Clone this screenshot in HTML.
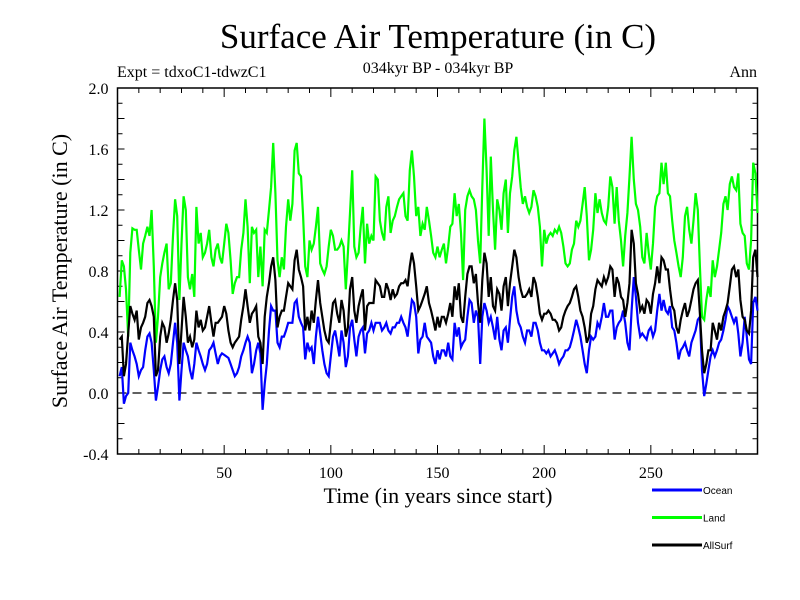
<!DOCTYPE html>
<html><head><meta charset="utf-8"><style>
html,body{margin:0;padding:0;background:#fff;width:800px;height:600px;overflow:hidden}
svg{display:block}
</style></head><body>
<svg id="chart" width="800" height="600" xmlns="http://www.w3.org/2000/svg">
<text x="438" y="48" text-anchor="middle" font-family="Liberation Serif, serif" font-size="35">Surface Air Temperature (in C)</text>
<text x="117" y="77" font-family="Liberation Serif, serif" font-size="16">Expt = tdxoC1-tdwzC1</text>
<text x="438" y="73" text-anchor="middle" font-family="Liberation Serif, serif" font-size="16">034kyr BP - 034kyr BP</text>
<text x="757" y="77" text-anchor="end" font-family="Liberation Serif, serif" font-size="16">Ann</text>
<text x="438" y="503" text-anchor="middle" font-family="Liberation Serif, serif" font-size="22">Time (in years since start)</text>
<text transform="translate(67,271) rotate(-90)" text-anchor="middle" font-family="Liberation Serif, serif" font-size="22">Surface Air Temperature (in C)</text>
<g id="axes"></g>
<g id="series"></g>
<g id="legend"></g>
</svg>
<script>
const years = Array.from({length:300},(_, i)=>i+1);
const ocean = [0.11,0.17,-0.07,-0.02,0.00,0.33,0.28,0.24,0.19,0.11,0.15,0.17,0.28,0.37,0.39,0.33,0.15,-0.05,0.04,0.15,0.22,0.24,0.17,0.13,0.19,0.33,0.46,0.33,-0.05,0.15,0.33,0.28,0.24,0.15,0.09,0.19,0.33,0.28,0.24,0.19,0.15,0.19,0.28,0.30,0.33,0.26,0.19,0.24,0.26,0.25,0.24,0.23,0.19,0.15,0.11,0.13,0.17,0.24,0.28,0.33,0.37,0.33,0.13,0.19,0.28,0.33,0.26,-0.11,0.06,0.19,0.41,0.57,0.54,0.54,0.33,
0.30,0.37,0.37,0.41,0.46,0.46,0.46,0.59,0.61,0.50,0.46,0.43,0.22,0.33,0.28,0.30,0.19,0.37,0.50,0.39,0.28,0.19,0.13,0.11,0.24,0.37,0.41,0.33,0.24,0.41,0.33,0.17,0.24,0.43,0.48,0.35,0.24,0.37,0.41,0.43,0.26,0.39,0.41,0.46,0.41,0.46,0.46,0.46,0.41,0.43,0.46,0.41,0.39,0.43,0.43,0.46,0.46,0.50,0.46,0.43,0.37,0.50,0.61,0.59,0.50,0.26,0.35,0.37,0.46,0.37,0.35,0.33,0.24,0.19,0.28,
0.22,0.28,0.28,0.24,0.33,0.24,0.22,0.46,0.37,0.43,0.30,0.33,0.35,0.50,0.61,0.59,0.46,0.54,0.50,0.19,0.50,0.59,0.54,0.46,0.50,0.43,0.35,0.50,0.35,0.28,0.41,0.43,0.33,0.48,0.63,0.70,0.54,0.46,0.43,0.37,0.33,0.41,0.41,0.37,0.46,0.46,0.41,0.33,0.28,0.28,0.26,0.28,0.24,0.26,0.28,0.24,0.19,0.22,0.24,0.28,0.28,0.30,0.35,0.41,0.48,0.43,0.37,0.28,0.19,0.13,0.28,0.37,0.35,0.37,0.46,
0.43,0.50,0.59,0.50,0.50,0.54,0.54,0.35,0.43,0.46,0.48,0.54,0.46,0.33,0.28,0.54,0.76,0.63,0.46,0.37,0.39,0.37,0.35,0.41,0.43,0.37,0.41,0.54,0.65,0.54,0.61,0.54,0.52,0.57,0.43,0.41,0.33,0.22,0.28,0.30,0.33,0.28,0.24,0.33,0.37,0.41,0.48,0.50,0.15,-0.02,0.06,0.15,0.24,0.28,0.24,0.28,0.33,0.35,0.41,0.48,0.57,0.54,0.50,0.46,0.50,0.39,0.24,0.33,0.50,0.37,0.22,0.19,0.59,0.63,0.54];
const land = [0.63,0.87,0.83,0.68,0.37,0.92,1.08,1.07,1.07,0.94,0.81,0.98,1.03,1.09,1.03,1.20,0.83,0.33,0.50,0.76,0.85,0.92,0.98,0.68,0.72,1.03,1.27,1.16,0.61,0.98,1.29,1.20,0.76,0.68,0.78,0.63,1.22,0.98,1.05,0.89,0.92,0.98,1.07,0.89,0.83,0.94,0.98,0.89,0.85,0.98,1.11,1.05,0.87,0.65,0.72,0.76,0.76,0.94,1.05,1.27,1.09,0.72,1.09,1.05,1.07,0.76,0.96,0.70,1.07,1.05,1.20,1.35,1.64,1.31,0.87,
0.76,0.89,0.81,1.09,1.27,1.13,1.24,1.59,1.64,1.44,1.42,1.16,0.83,0.76,1.00,0.94,0.98,1.09,1.22,0.85,0.81,0.78,0.83,0.96,1.07,1.03,0.94,0.94,0.96,1.00,0.96,0.68,0.92,1.18,1.46,0.96,0.89,0.92,1.09,1.22,0.85,1.11,0.98,1.03,1.00,1.42,1.40,1.13,1.05,1.00,1.22,1.29,1.05,1.13,1.16,1.22,1.27,1.29,1.31,1.16,1.13,1.46,1.59,1.42,1.16,1.22,1.03,1.11,1.07,1.22,1.13,1.03,0.92,0.89,0.96,
0.89,0.94,0.98,0.85,0.96,1.09,1.11,1.31,1.16,1.24,1.05,0.74,1.20,1.29,1.33,1.29,1.27,1.20,1.00,0.85,1.35,1.80,1.46,1.03,1.55,1.20,0.94,1.27,1.20,1.07,1.31,1.40,1.05,1.31,1.42,1.59,1.68,1.51,1.35,1.24,1.29,1.22,1.18,1.22,1.33,1.29,1.22,1.09,0.83,1.07,0.98,1.03,1.05,1.03,1.07,1.05,1.09,1.05,0.96,0.85,0.83,0.85,0.94,0.98,1.13,1.09,1.13,1.24,1.35,1.16,0.87,0.94,1.07,1.31,1.18,
1.27,1.18,1.13,1.11,1.22,1.42,1.35,1.11,1.35,1.13,1.00,0.83,1.03,1.18,1.42,1.68,1.40,1.24,1.20,1.09,0.89,0.85,1.05,0.92,0.81,0.98,1.22,1.29,1.31,1.51,1.37,1.51,1.31,1.29,1.13,1.00,0.92,0.83,0.76,0.89,1.16,1.22,1.07,0.98,1.13,1.31,1.20,0.83,0.50,0.48,0.61,0.70,0.63,0.87,0.76,0.83,0.94,1.05,1.24,1.29,1.20,1.37,1.42,1.35,1.33,1.44,1.11,1.05,1.03,0.85,0.81,1.00,1.51,1.44,1.18];
const allsurf = [0.35,0.37,0.11,0.19,0.39,0.57,0.52,0.48,0.54,0.35,0.43,0.46,0.50,0.59,0.61,0.57,0.50,0.11,0.15,0.37,0.46,0.43,0.33,0.39,0.48,0.61,0.72,0.61,0.19,0.41,0.63,0.50,0.33,0.37,0.30,0.35,0.54,0.43,0.48,0.41,0.43,0.50,0.57,0.46,0.37,0.46,0.46,0.48,0.50,0.57,0.52,0.41,0.33,0.30,0.33,0.35,0.37,0.48,0.57,0.68,0.57,0.46,0.52,0.54,0.57,0.37,0.33,0.19,0.50,0.63,0.72,0.83,0.89,0.74,0.43,
0.50,0.54,0.54,0.63,0.72,0.70,0.68,0.87,0.94,0.81,0.76,0.70,0.41,0.50,0.41,0.54,0.46,0.61,0.74,0.59,0.50,0.41,0.35,0.33,0.46,0.59,0.61,0.52,0.46,0.61,0.54,0.37,0.43,0.68,0.76,0.54,0.46,0.57,0.63,0.68,0.41,0.57,0.59,0.59,0.59,0.74,0.72,0.70,0.63,0.63,0.72,0.68,0.61,0.68,0.63,0.65,0.70,0.72,0.72,0.74,0.70,0.83,0.92,0.85,0.70,0.54,0.57,0.61,0.65,0.70,0.59,0.54,0.48,0.41,0.50,
0.43,0.50,0.50,0.46,0.52,0.59,0.50,0.70,0.61,0.72,0.50,0.46,0.63,0.78,0.83,0.83,0.72,0.78,0.59,0.46,0.74,0.92,0.85,0.63,0.76,0.57,0.54,0.68,0.65,0.54,0.70,0.76,0.57,0.72,0.83,0.94,0.89,0.76,0.68,0.63,0.63,0.65,0.68,0.63,0.76,0.72,0.63,0.52,0.48,0.52,0.52,0.54,0.52,0.48,0.48,0.46,0.41,0.43,0.50,0.54,0.57,0.59,0.63,0.68,0.70,0.63,0.54,0.50,0.43,0.33,0.37,0.52,0.57,0.68,0.74,
0.72,0.70,0.76,0.72,0.76,0.83,0.81,0.63,0.76,0.72,0.63,0.61,0.50,0.59,0.72,1.07,0.98,0.72,0.65,0.54,0.57,0.52,0.61,0.59,0.52,0.65,0.72,0.83,0.72,0.89,0.87,0.81,0.81,0.68,0.57,0.54,0.43,0.39,0.48,0.54,0.59,0.50,0.54,0.61,0.68,0.72,0.74,0.52,0.28,0.13,0.19,0.28,0.28,0.46,0.41,0.35,0.46,0.41,0.50,0.54,0.59,0.70,0.81,0.83,0.76,0.81,0.61,0.50,0.48,0.41,0.39,0.54,0.89,0.94,0.76];
const yTickLabels = ["-0.4","0.0","0.4","0.8","1.2","1.6","2.0"];
const xTickLabels = ["50","100","150","200","250"];
const seriesNames = ["Ocean","Land","AllSurf"];
const seriesColors = ["#0000ff","#00ff00","#000000"];

const L=117.5,R=757.5,T=88,B=454, X0=0,X1=300,Y0=-0.4,Y1=2.0;
const xs=v=>L+(v-X0)/(X1-X0)*(R-L);
const ys=v=>B-(v-Y0)/(Y1-Y0)*(B-T);
const NS="http://www.w3.org/2000/svg";
function mk(tag,attrs,parent){const e=document.createElementNS(NS,tag);for(const k in attrs)e.setAttribute(k,attrs[k]);parent.appendChild(e);return e;}
const axes=document.getElementById('axes');
const frame=mk('rect',{x:L,y:T,width:R-L,height:B-T,fill:'none',stroke:'#000','stroke-width':1.5},axes);


const zl=mk('line',{x1:L,x2:R,y1:ys(0),y2:ys(0),stroke:'#000','stroke-width':1.2,'stroke-dasharray':'9,6'},axes);


for(let i=0;i<=24;i++){const v=Y0+i*0.1;const y=ys(v);const len=(i%2===0)?7:5;
 const t1=mk('line',{x1:L,x2:L+len,y1:y,y2:y,stroke:'#000','stroke-width':1},axes);
 
 
 const t2=mk('line',{x1:R,x2:R-len,y1:y,y2:y,stroke:'#000','stroke-width':1},axes);
 
 }
yTickLabels.forEach(s=>{const v=parseFloat(s);const t=mk('text',{x:L-9,y:ys(v)+6,'text-anchor':'end','font-family':'Liberation Serif, serif','font-size':16},axes);t.textContent=s;
 
 });
for(let v=10;v<300;v+=10){const x=xs(v);const len=(v%50===0)?9:5;
 const t1=mk('line',{x1:x,x2:x,y1:B,y2:B-len,stroke:'#000','stroke-width':1},axes);
 
 
 const t2=mk('line',{x1:x,x2:x,y1:T,y2:T+len,stroke:'#000','stroke-width':1},axes);
 
 }
xTickLabels.forEach(s=>{const v=parseFloat(s);const t=mk('text',{x:xs(v),y:B+24,'text-anchor':'middle','font-family':'Liberation Serif, serif','font-size':16},axes);t.textContent=s;
 
 });
const sg=document.getElementById('series');
[ocean,land,allsurf].forEach((arr,k)=>{const d=arr.map((v,i)=>(i?'L':'M')+xs(years[i]).toFixed(1)+','+ys(v).toFixed(1)).join('');
 const p=mk('path',{d:d,fill:'none',stroke:seriesColors[k],'stroke-width':2.2,'stroke-linejoin':'miter'},sg);
 
 });
const lg=document.getElementById('legend');
seriesNames.forEach((n,k)=>{const y=490+k*27.5;
 const g=mk('g',{},lg);
 
 
 mk('line',{x1:652,x2:702,y1:y,y2:y,stroke:seriesColors[k],'stroke-width':3},g);
 const t=mk('text',{x:703,y:y+4,'font-family':'Liberation Sans, sans-serif','font-size':10},g);t.textContent=n;});
</script>
</body></html>
